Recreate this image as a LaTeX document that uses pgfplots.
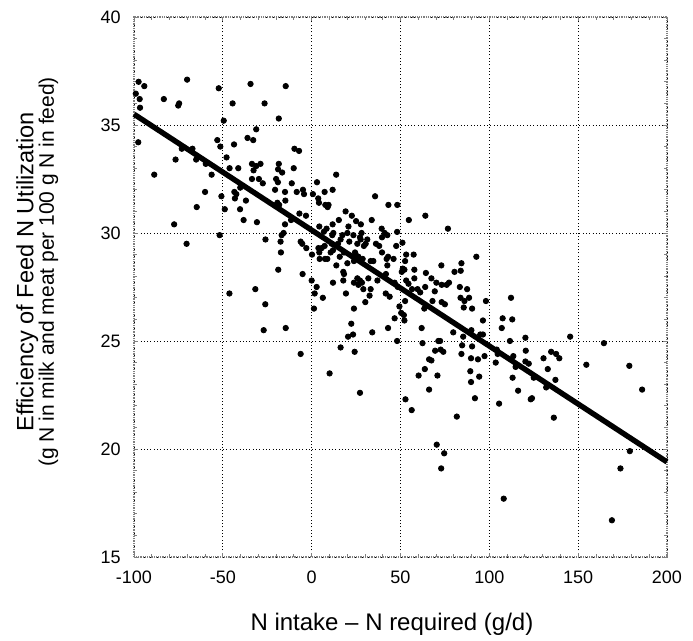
\documentclass[border=0pt]{standalone}
\usepackage{fontspec}
\setmainfont{Liberation Sans}
\usepackage{pgfplots}
\pgfplotsset{compat=1.18}

\pgfplotstableread{
x y
-99 36.45
-97.4 37.0
-94.2 36.8
-96.8 36.2
-96.6 35.8
-97.6 34.2
-88.6 32.7
-83.2 36.2
-75.1 35.9
-74.6 36.0
-70.1 37.1
-76.6 33.4
-73.1 33.9
-67.1 33.9
-65.0 33.4
-60 31.9
-64.7 31.2
-77.4 30.4
-56.3 32.7
-59.6 33.2
-52.3 36.7
-49.5 35.2
-53.1 34.3
-51.4 34.0
-44.5 36.0
-34.4 36.9
-26.5 36.0
-14.6 36.8
-18.5 35.3
-36.1 34.4
-31.2 34.8
-32.9 34.3
-43.7 34.1
-47.9 33.5
-46.2 33.0
-41.3 33.0
-33.6 33.2
-32.7 32.9
-31.2 33.1
-28.8 33.2
-33.6 32.5
-29.7 32.5
-27.5 32.3
-18.5 33.2
-18.9 32.95
-16.6 32.8
-20 32.5
-19 32.35
-15 31.9
-20.6 32.0
-9.7 33.9
-7.1 33.8
-10.1 33.0
-11.2 32.3
-8.4 31.9
-4.9 32.0
-4.3 31.8
-50.8 31.7
-43.5 31.9
-42.4 31.8
-43.2 31.6
-40.2 32.1
-37.0 31.5
-48.9 31.1
-40.3 31.1
-38.3 30.6
-30.8 30.5
-19.3 31.4
-14.8 31.5
-18.3 31.3
-15.0 30.4
-11.6 30.6
-6.9 30.9
-3.2 30.8
0.7 31.8
3.0 32.35
13.8 32.7
3.7 31.6
4.1 31.4
7.3 31.9
11.8 32.0
7.7 31.3
9.5 31.3
9.0 31.2
19.1 31.0
15.3 30.6
4.3 30.3
22.6 30.8
25.0 30.55
27.7 30.4
20.7 30.3
33.8 30.6
35.7 31.7
39.4 30.2
43.2 31.3
48.2 31.3
54.7 30.6
64 30.8
76.7 30.2
11.8 30.4
6.9 30.06
8.4 30.2
-70.4 29.5
-51.8 29.9
-26.0 29.7
-15.8 30.0
-16.9 29.9
-17.5 29.6
-17.3 29.1
-18.8 28.3
-5.1 28.1
-6.2 29.6
-5.3 29.5
-3.0 29.3
-46.3 27.2
-31.7 27.4
-26.1 26.7
-27.0 25.5
-14.6 25.6
-6.2 24.4
0.0 27.8
2.8 27.5
1.7 27.2
1.3 26.5
6.3 27.0
0.2 29.0
4.3 29.1
3.8 29.3
5.6 29.3
7.3 29.4
4.5 28.8
7.5 28.8
8.8 28.8
10.7 29.1
12.0 29.2
11.6 29.9
12.2 30.0
17.3 29.9
12.0 27.7
15.8 28.9
13.9 28.5
17.8 28.2
18.2 28.1
17.8 27.8
19.3 27.2
20.1 28.6
21.2 29.6
23.8 26.5
22.3 25.8
20.5 25.2
23.3 25.3
16.3 24.7
24.2 24.5
10.1 23.5
27.2 22.6
25.7 27.9
27.2 27.8
28.3 27.7
26.3 27.6
23.8 27.7
29.1 27.4
33.2 27.4
31.9 27.9
32.6 27.1
30.2 26.8
34.1 25.4
42.6 28.5
41.7 27.2
41.8 28.1
37.0 27.8
34.7 28.7
33.2 28.7
42.2 28.8
39.6 29.1
38.0 29.4
36.2 29.5
41.1 30.0
42.6 29.9
39.6 29.8
31.3 29.7
30.4 29.5
29.4 29.4
25.7 29.5
27.6 29.7
24.4 29.1
24.8 29.0
23.8 28.7
26.3 28.9
28.7 28.8
28.1 30.0
27.2 29.8
23.5 29.9
18.2 29.1
20.1 30.0
16.3 29.7
14.8 29.5
11.3 29.5
48.1 30.05
47.6 29.4
51.1 29.55
43.0 28.9
46.1 28.8
53.2 29.0
57.4 29.0
52.6 28.7
51.3 28.35
52.2 28.3
50.7 28.2
57.8 28.3
64.3 28.15
73.0 28.5
84.3 28.6
83.9 28.25
80.4 28.2
92.7 28.9
46.7 27.7
48.5 27.5
53.2 27.8
54.5 27.65
57.8 27.9
56.5 27.4
59.6 27.4
61.1 27.25
67.4 27.9
70.2 27.7
73.2 27.6
76.0 27.6
77.3 27.7
63.9 27.5
69.3 27.3
83.4 27.5
87.5 27.4
43.9 27.05
52.6 26.85
49.4 26.6
63.4 26.5
68.0 26.85
73.2 26.8
75.0 26.7
83.8 27.0
86.0 26.85
88.6 27.0
85.6 26.55
90.3 26.5
98.1 26.85
112.2 27.0
50.4 26.3
51.9 26.2
46.7 26.05
52.2 25.95
96.4 25.95
107.5 26.05
112.9 26.0
43.0 25.6
61.9 25.6
79.7 25.4
89.9 25.5
85.3 25.2
94.9 25.3
96.4 25.3
107 25.6
48.1 25.0
62.4 24.9
71.3 25.0
72.3 25.0
84.7 24.8
90.3 24.75
69.5 24.55
72.6 24.6
74.1 24.5
84.3 24.4
89.7 24.2
93.6 24.15
97.3 24.3
104.2 24.6
104.7 24.4
103.6 24.0
111.6 25.0
113.5 24.3
114.8 23.8
120.3 25.15
120.5 24.55
120.3 24.05
122.2 23.95
130.5 24.2
134.8 24.5
137.6 24.4
139.4 24.2
132.9 23.7
125.0 23.3
137.2 23.2
132.0 22.85
145.5 25.2
164.5 24.9
154.6 23.9
178.8 23.85
186.0 22.75
66.1 24.15
67.4 24.1
63.7 23.7
60.2 23.4
70.8 23.4
66.1 22.75
89.3 23.6
89.7 23.1
94.3 23.35
113.1 23.3
116.2 22.7
123.3 22.3
124.0 22.35
91.9 22.35
105.5 22.1
52.8 22.3
56.3 21.8
81.7 21.5
136.3 21.45
70.4 20.2
74.6 19.8
72.9 19.1
108.1 17.7
179.1 19.9
173.8 19.1
169.0 16.7
}\herds

\begin{document}
\begin{tikzpicture}
\begin{axis}[
  at={(0,0)}, anchor=south west,
  scale only axis,
  width=266.5pt, height=270pt,
  xmin=-100, xmax=200,
  ymin=15, ymax=40,
  xtick={-100,-50,...,200},
  ytick={15,20,...,40},
  minor x tick num=4,
  minor y tick num=4,
  tick align=inside,
  major tick length=2pt,
  minor tick length=1.5pt,
  every tick/.style={gray, line width=0.4pt},
  grid=major,
  grid style={black, line width=0.45pt, dash pattern=on 0.45pt off 1.2pt},
  axis line style={gray, line width=0.6pt, dash pattern=on 0.6pt off 0.5pt},
  /pgf/number format/assume math mode=true,
  ticklabel style={font=\fontsize{9}{11}\selectfont},
  xticklabel style={inner sep=0pt, anchor=north, yshift=-7pt},
  yticklabel style={inner sep=0pt, anchor=east, xshift=-6.5pt},
  xlabel={N intake -- N required (g/d)},
  every axis x label/.style={at={(axis description cs:0.484,-0.1361)}, anchor=base,
    font=\fontsize{12}{14}\selectfont},
  ylabel={Efficiency of Feed N Utilization},
  every axis y label/.style={at={(axis description cs:-0.1889,0.528)}, rotate=90, anchor=base,
    font=\fontsize{11.8}{14}\selectfont},
  clip=false,
]
\addplot[only marks, mark=*, mark size=1.35pt, black] table[x=x, y=y] {\herds};
\addplot[black, line width=2.7pt] coordinates {(-100,35.5) (200,19.4)};
\node[rotate=90, anchor=base, font=\fontsize{10.5}{12}\selectfont]
  at (axis description cs:-0.1501,0.528) {(g N in milk and meat per 100 g N in feed)};
\end{axis}
\pgfresetboundingbox
\path[use as bounding box] (-67pt,-42pt) rectangle (279.5pt,278.5pt);
\end{tikzpicture}
\end{document}
